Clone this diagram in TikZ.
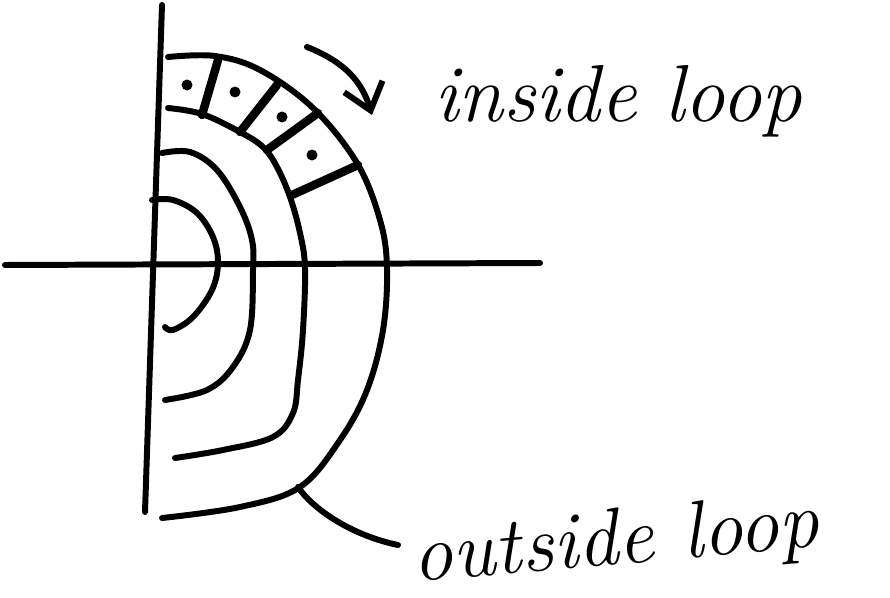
\documentclass[tikz,border=0pt]{standalone}
\usepackage{tikz}
\usetikzlibrary{arrows.meta, positioning}

\begin{document}
\begin{tikzpicture}[x=0.02cm, y=-0.02cm,
  l/.style={line width=3.4pt, line cap=round, line join=round},
  r/.style={line width=4.8pt, line cap=round},
  a/.style={l, -{Straight Barb[length=5mm, width=8mm]}},
  t/.style={font=\fontsize{46}{50}\selectfont\itshape, inner sep=0pt}]
  \useasboundingbox (0,0) rectangle (890,598);
  \draw[l] (162,5) -- (145,512);
  \draw[l] (5,265) -- (540,263);
  \draw[l] plot[smooth, tension=0.6] coordinates {(152,200) (173,200) (197,213) (213,237) (218,263) (212,290) (193,317) (173,330) (165,327)};
  \draw[l] plot[smooth, tension=0.6] coordinates {(162,153) (190,152) (217,170) (240,207) (252,240) (253,270) (250,330) (233,367) (207,390) (165,400)};
  \draw[l] plot[smooth, tension=0.6] coordinates {(168,108) (202,114) (240,132) (263,147) (277,167) (290,197) (300,233) (305,268) (303,330) (298,380) (293,413) (273,437) (223,450) (175,458)};
  \draw[l] plot[smooth, tension=0.6] coordinates {(168,57) (215,56) (260,70) (313,108) (357,163) (380,220) (387,268) (383,330) (367,390) (340,440) (300,487) (240,507) (162,518)};
  \draw[r] (218,60) -- (202,115);  \draw[r] (277,85) -- (240,132);
  \draw[r] (318,113) -- (267,150); \draw[r] (358,165) -- (292,195);
  \foreach \p in {(187,85), (235,92), (282,117), (312,155)}
    \fill \p circle[radius=1.1mm];
  \coordinate (arrstart) at (307,47);
  \coordinate (arrtip) at (372,115);
  \draw[a] (arrstart) .. controls (345,62) and (362,82) .. (arrtip);
  \node[t, anchor=base west] (inside) at (434,122) {inside loop};
  \node[t, anchor=base west, rotate=5] (outside) at (414,582) {outside loop};
  \coordinate (leadstart) at (298,487);
  \coordinate (leadend) at (398,545);
  \draw[l] (leadstart) .. controls (312,508) and (350,535) .. (leadend);
\end{tikzpicture}
\end{document}
